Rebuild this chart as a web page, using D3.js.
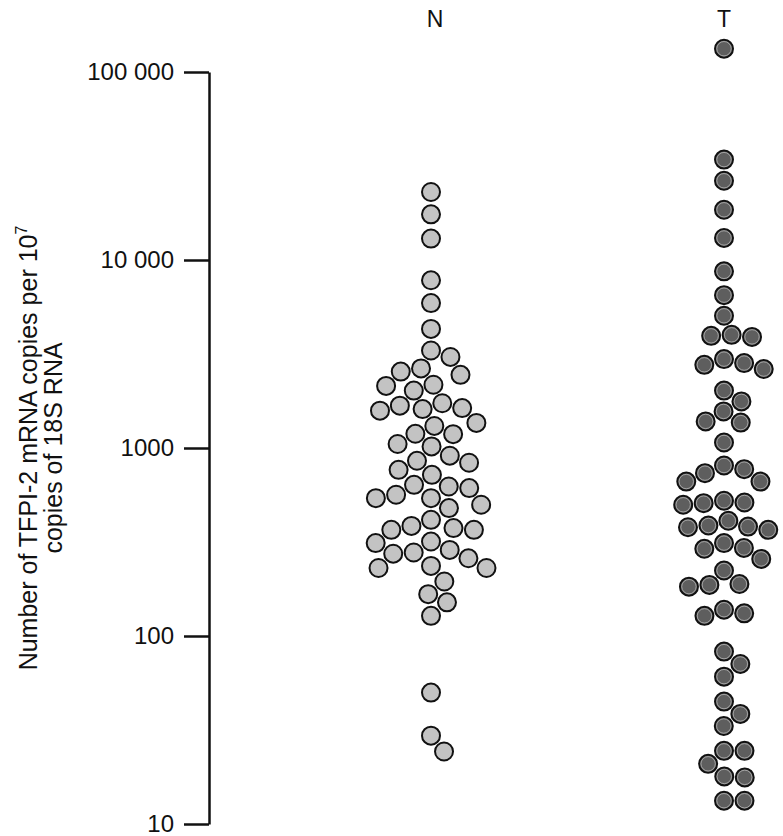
<!DOCTYPE html>
<html>
<head>
<meta charset="utf-8">
<script src="https://cdn.jsdelivr.net/npm/d3@7"></script>
<style>
	body { margin: 0; background: #fff; }
	text { font-family: "Liberation Sans", Arial, Helvetica, sans-serif; fill: #111; }
</style>
</head>
<body>
<div id="wrapper"></div>
<script>
// 1. Data
const groups = ["N", "T"];

const normalValues = [
	23000, 17500, 13000, 7800, 5900, 4300, 3300, 3050, 2650, 2550, 2450,
	2170, 2140, 2020, 1730, 1680, 1630, 1610, 1580, 1360, 1310, 1190, 1185,
	1050, 1020, 910, 855, 835, 765, 720, 637, 624, 612, 564, 541, 541, 499,
	479, 415, 385, 375, 367, 367, 318, 312, 287, 278, 274, 259, 236, 230,
	230, 195, 167, 151, 128, 50, 29.5, 24.3,
];

const tumourValues = [
	133000, 34200, 26400, 18500, 13100, 8700, 6500, 5050, 4000, 3950, 3900,
	2970, 2830, 2770, 2630, 2020, 1770, 1565, 1385, 1365, 1070, 807, 772,
	735, 663, 663, 524, 513, 509, 499, 410, 387, 382, 379, 367, 312, 294,
	291, 257, 223, 189, 187, 183, 138, 132, 128, 82.6, 71, 60.8, 44.8, 38.5,
	33.2, 24.5, 24.5, 20.9, 17.9, 17.7, 13.3, 13.3,
];

const tickValues = [10, 100, 1000, 10000, 100000];

const drawChart = () => {
	// 2. Dimensions
	const dimensions = {
		width: 783,
		height: 836,
		margins: { top: 72, right: 0, bottom: 12, left: 209 },
		radius: 9,
		gap: 20.5,
	};

	const svg = d3
		.select("#wrapper")
		.append("svg")
		.attr("width", dimensions.width)
		.attr("height", dimensions.height);

	// 3. Scales
	const yScale = d3
		.scaleLog()
		.domain([10, 100000])
		.range([dimensions.height - dimensions.margins.bottom, dimensions.margins.top]);

	const xScale = d3.scalePoint().domain(groups).range([431, 724]);

	// 4. Axis
	const formatTick = (v) =>
		v >= 10000 ? d3.format(",")(v).replace(/,/g, " ") : String(v);

	const yAxis = svg
		.append("g")
		.attr("transform", `translate(${dimensions.margins.left}, 0)`)
		.call(
			d3
				.axisLeft(yScale)
				.tickValues(tickValues)
				.tickFormat(formatTick)
				.tickSize(25)
				.tickSizeOuter(0)
				.tickPadding(10)
		);

	yAxis.select(".domain").attr("stroke", "#111").attr("stroke-width", 2.5);
	yAxis.selectAll(".tick line").attr("stroke", "#111").attr("stroke-width", 2.5);
	yAxis
		.selectAll(".tick text")
		.attr("font-size", 24)
		.attr("fill", "#111")
		.style("font-family", "'Liberation Sans', Arial, sans-serif");

	// y label (two lines)
	const label = svg
		.append("text")
		.attr("transform", `translate(37, 448) rotate(-90)`)
		.attr("text-anchor", "middle")
		.attr("font-size", 25);
	label.append("tspan").text("Number of TFPI-2 mRNA copies per 10");
	label.append("tspan").attr("dy", -10).attr("font-size", 16).text("7");

	svg
		.append("text")
		.attr("transform", `translate(62, 448) rotate(-90)`)
		.attr("text-anchor", "middle")
		.attr("font-size", 25)
		.text("copies of 18S RNA");

	// group headers
	svg
		.selectAll(".group-label")
		.data(groups)
		.join("text")
		.attr("class", "group-label")
		.attr("x", (d) => xScale(d) + (d === "N" ? 4 : 0))
		.attr("y", 27)
		.attr("text-anchor", "middle")
		.attr("font-size", 23)
		.text((d) => d);

	// 5. Beeswarm layout: keep exact y, push each dot to the nearest free x
	const swarm = (values) => {
		const D = dimensions.gap;
		const placed = [];
		const sorted = values
			.map((v) => ({ value: v, y: yScale(v) }))
			.sort((a, b) => a.y - b.y);
		sorted.forEach((d) => {
			const near = placed.filter((p) => Math.abs(p.y - d.y) < D);
			const cands = [0];
			near.forEach((p) => {
				const dx = Math.sqrt(D * D - (p.y - d.y) ** 2);
				cands.push(p.x + dx, p.x - dx);
			});
			cands.sort((a, b) => Math.abs(a) - Math.abs(b) || b - a);
			d.x = cands.find((c) =>
				near.every((p) => (p.x - c) ** 2 + (p.y - d.y) ** 2 >= D * D - 0.01)
			);
			placed.push(d);
		});
		return sorted;
	};

	const series = [
		{ key: "N", values: normalValues, fill: "#c3c3c3" },
		{ key: "T", values: tumourValues, fill: "#5e5e5e" },
	];

	series.forEach((s) => {
		const g = svg.append("g").attr("class", `dots-${s.key}`);
		const pts = swarm(s.values);
		const dots = g
			.selectAll("g")
			.data(pts)
			.join("g")
			.attr("transform", (d) => `translate(${xScale(s.key) + d.x}, ${d.y})`);
		dots
			.append("circle")
			.attr("r", dimensions.radius)
			.attr("fill", s.fill)
			.attr("stroke", "#111")
			.attr("stroke-width", 2);
		if (s.key === "T") {
			dots
				.append("circle")
				.attr("r", dimensions.radius - 1.8)
				.attr("fill", "none")
				.attr("stroke", "#b5b5b5")
				.attr("stroke-width", 0.8);
		}
	});
};

drawChart();
</script>
</body>
</html>
